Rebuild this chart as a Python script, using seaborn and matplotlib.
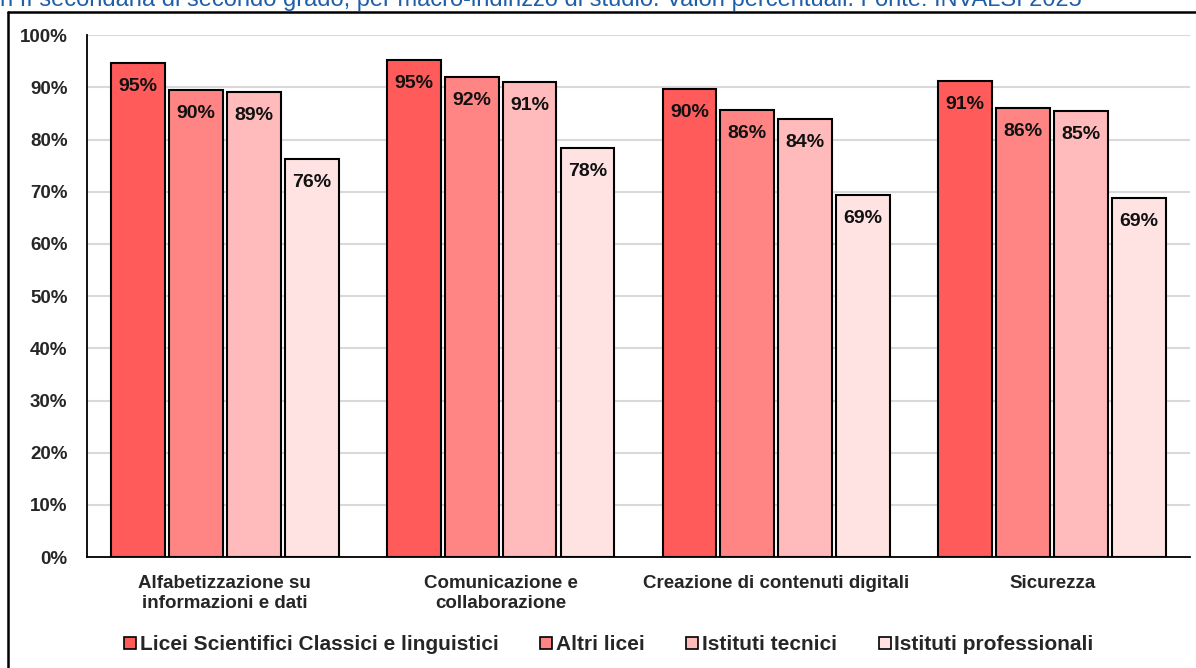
import pandas as pd
import numpy as np
import matplotlib
matplotlib.use('Agg')
import matplotlib.pyplot as plt
import seaborn as sns
from matplotlib.lines import Line2D

# Data
categories = ['Alfabetizzazione su\ninformazioni e dati', 'Comunicazione e\ncollaborazione',
              'Creazione di contenuti digitali', 'Sicurezza']
groups = ['Licei Scientifici Classici e linguistici', 'Altri licei', 'Istituti tecnici', 'Istituti professionali']
licei_scientifici = [94.6, 95.2, 89.7, 91.2]
altri_licei = [89.5, 92.0, 85.6, 86.0]
istituti_tecnici = [89.1, 91.0, 83.9, 85.4]
istituti_professionali = [76.2, 78.4, 69.3, 68.8]
colors = ['#FF5B5B', '#FF8585', '#FFBBBB', '#FFE3E3']

df = pd.DataFrame({
    'Area': categories * 4,
    'Indirizzo': [g for g in groups for _ in categories],
    'Valore': licei_scientifici + altri_licei + istituti_tecnici + istituti_professionali,
})

sns.set_theme(style='white')
plt.rcParams['font.family'] = ['Liberation Sans', 'DejaVu Sans']

fig = plt.figure(figsize=(11.96, 6.68), dpi=100)
ax = fig.add_axes([0.0727, 0.166, 0.9223, 0.7814])

sns.barplot(data=df, x='Area', y='Valore', hue='Indirizzo', hue_order=groups,
            palette=colors, saturation=1, width=0.84, gap=0.07, edgecolor='black', linewidth=1.5,
            legend=False, ax=ax, zorder=3)

# percentage labels inside the top of each bar
for container in ax.containers:
    for bar in container:
        h = bar.get_height()
        ax.annotate(f'{round(h):.0f}%', (bar.get_x() + bar.get_width() / 2, h),
                    xytext=(0, -17), textcoords='offset points', ha='center', va='center',
                    fontsize=14, fontweight='bold', color='#111111', zorder=4)

ax.set_ylim(0, 100)
ax.set_xlim(-0.5, 3.5)
ax.set_yticks(np.arange(0, 101, 10))
ax.set_yticklabels([f'{v}%' for v in range(0, 101, 10)], fontsize=13.5, fontweight='bold')
ax.tick_params(axis='x', labelsize=13.5, pad=13, length=0)
ax.tick_params(axis='y', length=0, pad=14)
for lbl in ax.get_xticklabels():
    lbl.set_fontweight('semibold')
    lbl.set_linespacing(1.2)
ax.set_xlabel('')
ax.set_ylabel('')
ax.yaxis.grid(True, color='#D9D9D9', linewidth=1.5, zorder=0)
ax.set_axisbelow(True)
for side in ['top', 'right']:
    ax.spines[side].set_visible(False)
for side in ['left', 'bottom']:
    ax.spines[side].set_color('black')
    ax.spines[side].set_linewidth(1.3)

handles = [Line2D([0], [0], marker='s', linestyle='', markersize=9, markerfacecolor=c,
                  markeredgecolor='black', markeredgewidth=1.2) for c in colors]
fig.legend(handles, groups, loc='center', bbox_to_anchor=(0.509, 0.035), ncol=4, frameon=False,
           handlelength=0.6, handletextpad=0.15, columnspacing=2.0,
           prop={'size': 15, 'weight': 'bold'})

# cropped subtitle and outer frame
fig.text(0.0, 1 - 6 / 668, 'n II secondaria di secondo grado, per macro-indirizzo di studio. Valori percentuali. Fonte: INVALSI 2025',
         ha='left', va='baseline', fontsize=17, color='#1F5FA8')
fig.add_artist(Line2D([8 / 1196, 8 / 1196], [0, 1 - 12 / 668], color='black', lw=1.8, transform=fig.transFigure))
fig.add_artist(Line2D([8 / 1196, 1], [1 - 12 / 668, 1 - 12 / 668], color='black', lw=1.8, transform=fig.transFigure))

fig.savefig('out.png', dpi=100)
